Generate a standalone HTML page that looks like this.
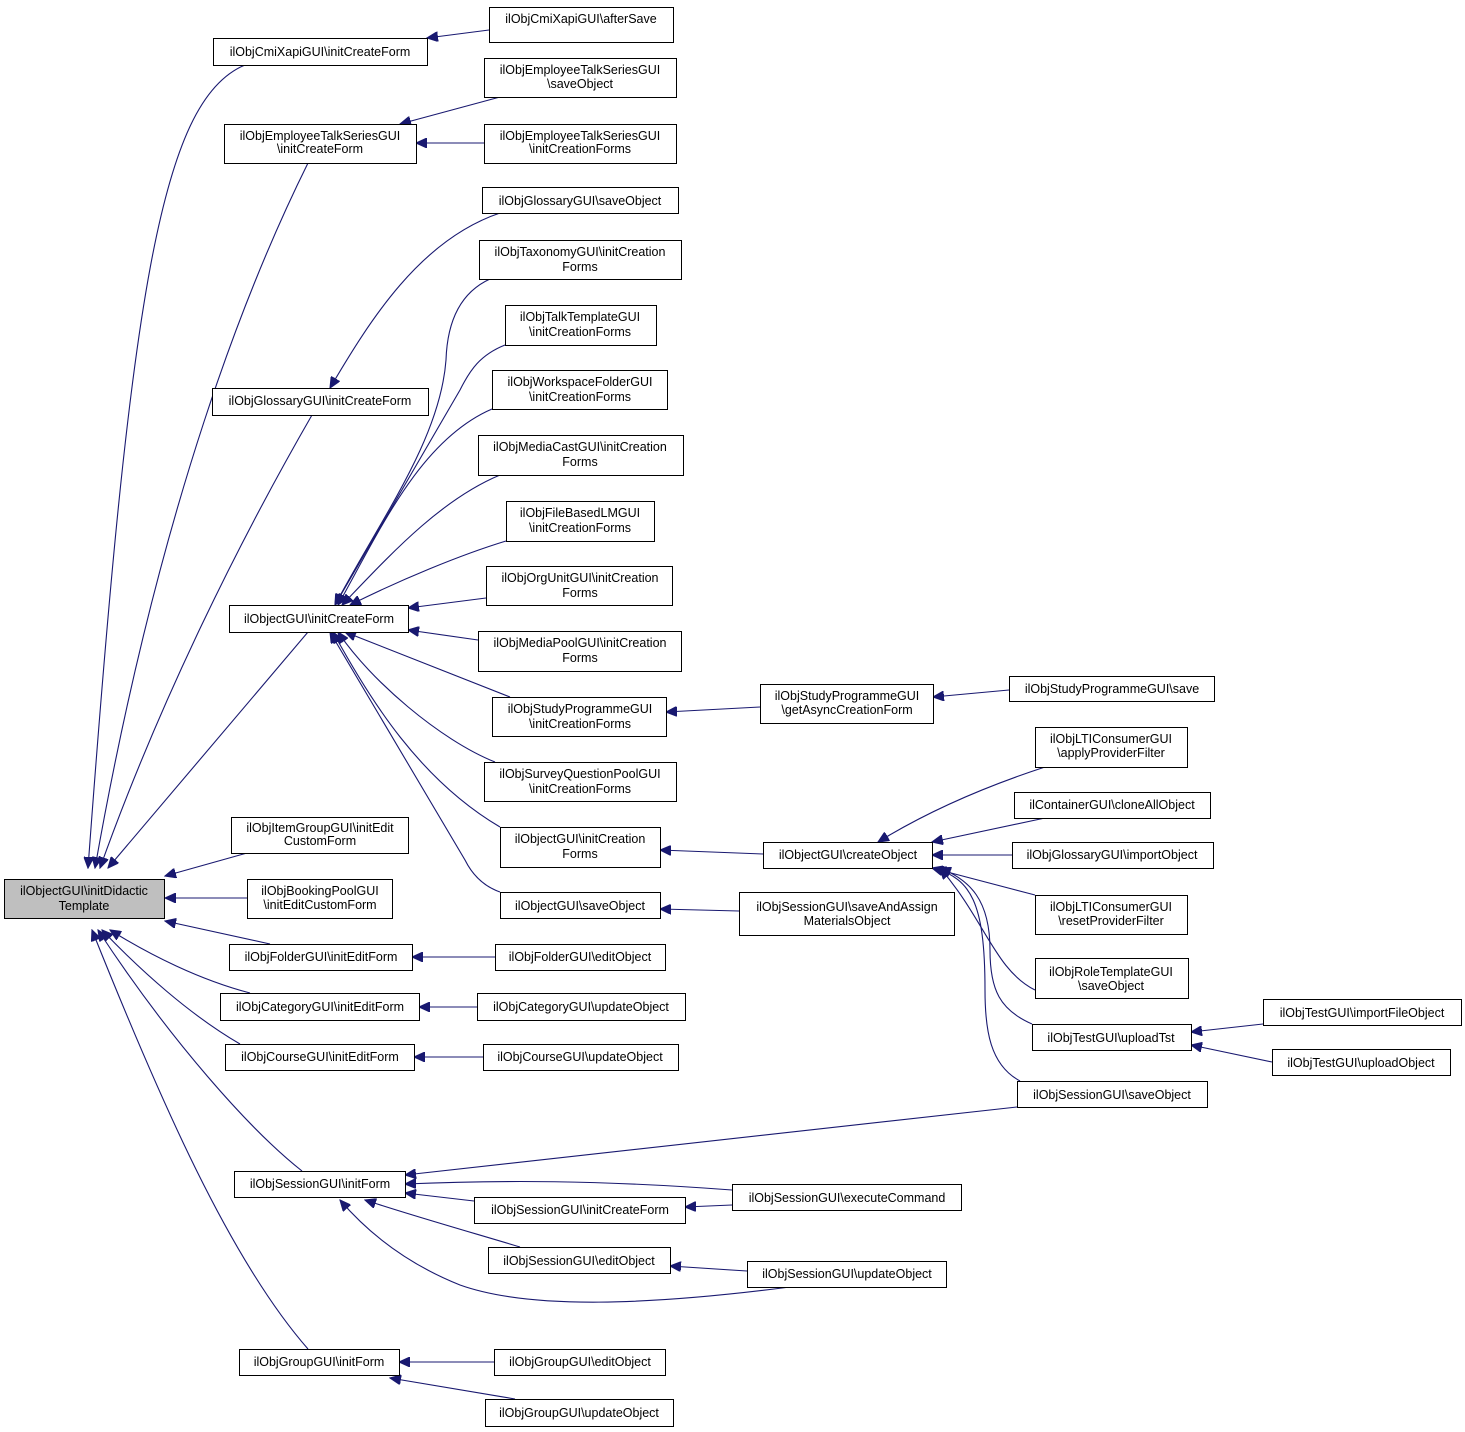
<!DOCTYPE html>
<html><head><meta charset="utf-8"><style>
html,body{margin:0;padding:0;background:#fff;}
svg{display:block;}
text{font-family:"Liberation Sans",sans-serif;font-size:12.5px;fill:#000;text-anchor:middle;}
rect{fill:#fff;stroke:#000;stroke-width:1;}
path{fill:none;stroke:#191970;stroke-width:1.1;}
</style></head><body>
<svg width="1465" height="1432" viewBox="0 0 1465 1432" xmlns="http://www.w3.org/2000/svg">
<defs><marker id="a" markerWidth="12" markerHeight="10" refX="11" refY="5" orient="auto" markerUnits="userSpaceOnUse"><path d="M0,0 L11,5 L0,10 Z" style="fill:#191970;stroke:#191970"/></marker></defs>
<g marker-end="url(#a)">
<path d="M245,65 C160,100 130,300 88,868"/>
<path d="M308,163 C250,280 160,500 95,868"/>
<path d="M312,415 C240,540 160,700 100,868"/>
<path d="M308,632 L108,868"/>
<path d="M247,853 L165,876"/>
<path d="M247,898 L165,898"/>
<path d="M270,944 L165,921"/>
<path d="M250,993 C200,980 150,955 110,930"/>
<path d="M240,1044 C190,1015 140,970 102,930"/>
<path d="M302,1171 C250,1130 170,1040 98,930"/>
<path d="M308,1349 C230,1260 160,1100 92,930"/>
<path d="M500,213 C420,240 370,320 330,388"/>
<path d="M490,279 C455,295 447,330 446,360 C440,440 380,520 335,605"/>
<path d="M505,345 C480,355 470,370 460,390 L335,605"/>
<path d="M492,409 C420,440 380,530 338,605"/>
<path d="M500,475 C440,500 390,555 342,605"/>
<path d="M506,541 C460,555 400,580 350,605"/>
<path d="M486,598 L408,608"/>
<path d="M478,640 L408,630"/>
<path d="M510,697 L345,632"/>
<path d="M495,762 C440,740 370,680 338,632"/>
<path d="M500,827 C420,780 370,700 333,632"/>
<path d="M500,892 C480,885 470,870 465,860 L330,632"/>
<path d="M500,97 L400,124"/>
<path d="M484,143 L416,143"/>
<path d="M489,30 L427,38"/>
<path d="M495,957 L412,957"/>
<path d="M477,1007 L419,1007"/>
<path d="M483,1057 L414,1057"/>
<path d="M1009,690 L933,697"/>
<path d="M760,707 L666,712"/>
<path d="M763,854 L660,850"/>
<path d="M739,911 L660,909"/>
<path d="M1045,767 C990,785 930,810 878,842"/>
<path d="M1045,818 L932,842"/>
<path d="M1012,855 L932,855"/>
<path d="M1035,895 L932,868"/>
<path d="M1035,990 C995,970 985,920 940,868"/>
<path d="M1032,1024 C1000,1010 990,990 990,950 C990,900 970,880 940,868"/>
<path d="M1020,1081 C990,1065 985,1030 985,990 C985,900 970,880 935,868"/>
<path d="M1263,1024 L1191,1032"/>
<path d="M1272,1062 L1191,1045"/>
<path d="M1017,1107 L405,1175"/>
<path d="M732,1190 C600,1180 500,1180 405,1184"/>
<path d="M474,1201 L405,1193"/>
<path d="M520,1247 C470,1232 410,1215 365,1200"/>
<path d="M790,1287 C650,1305 530,1310 460,1285 C410,1265 370,1235 340,1200"/>
<path d="M732,1205 L685,1207"/>
<path d="M747,1271 L670,1266"/>
<path d="M494,1362 L399,1362"/>
<path d="M515,1399 L390,1378"/>
</g>
<rect x="4.5" y="879.5" width="160" height="39" style="fill:#bfbfbf"/><text x="84" y="895">ilObjectGUI\initDidactic</text><text x="84" y="910">Template</text>
<rect x="213.5" y="38.5" width="214" height="27"/><text x="320" y="56">ilObjCmiXapiGUI\initCreateForm</text>
<rect x="224.5" y="124.5" width="192" height="39"/><text x="320" y="140">ilObjEmployeeTalkSeriesGUI</text><text x="320" y="153">\initCreateForm</text>
<rect x="212.5" y="388.5" width="216" height="27"/><text x="320" y="405">ilObjGlossaryGUI\initCreateForm</text>
<rect x="229.5" y="605.5" width="179" height="27"/><text x="319" y="623">ilObjectGUI\initCreateForm</text>
<rect x="231.5" y="817.5" width="177" height="36"/><text x="320" y="832">ilObjItemGroupGUI\initEdit</text><text x="320" y="845">CustomForm</text>
<rect x="247.5" y="879.5" width="145" height="39"/><text x="320" y="895">ilObjBookingPoolGUI</text><text x="320" y="909">\initEditCustomForm</text>
<rect x="229.5" y="944.5" width="183" height="26"/><text x="321" y="961">ilObjFolderGUI\initEditForm</text>
<rect x="220.5" y="993.5" width="199" height="27"/><text x="320" y="1011">ilObjCategoryGUI\initEditForm</text>
<rect x="225.5" y="1044.5" width="189" height="26"/><text x="320" y="1061">ilObjCourseGUI\initEditForm</text>
<rect x="234.5" y="1171.5" width="171" height="26"/><text x="320" y="1188">ilObjSessionGUI\initForm</text>
<rect x="239.5" y="1349.5" width="160" height="26"/><text x="319" y="1366">ilObjGroupGUI\initForm</text>
<rect x="489.5" y="7.5" width="184" height="35"/><text x="581" y="23">ilObjCmiXapiGUI\afterSave</text>
<rect x="484.5" y="58.5" width="192" height="39"/><text x="580" y="74">ilObjEmployeeTalkSeriesGUI</text><text x="580" y="88">\saveObject</text>
<rect x="484.5" y="124.5" width="192" height="39"/><text x="580" y="140">ilObjEmployeeTalkSeriesGUI</text><text x="580" y="153">\initCreationForms</text>
<rect x="482.5" y="187.5" width="196" height="26"/><text x="580" y="205">ilObjGlossaryGUI\saveObject</text>
<rect x="479.5" y="240.5" width="202" height="39"/><text x="580" y="256">ilObjTaxonomyGUI\initCreation</text><text x="580" y="271">Forms</text>
<rect x="505.5" y="305.5" width="151" height="40"/><text x="580" y="321">ilObjTalkTemplateGUI</text><text x="580" y="336">\initCreationForms</text>
<rect x="492.5" y="370.5" width="175" height="39"/><text x="580" y="386">ilObjWorkspaceFolderGUI</text><text x="580" y="401">\initCreationForms</text>
<rect x="478.5" y="435.5" width="205" height="40"/><text x="580" y="451">ilObjMediaCastGUI\initCreation</text><text x="580" y="466">Forms</text>
<rect x="506.5" y="501.5" width="148" height="40"/><text x="580" y="517">ilObjFileBasedLMGUI</text><text x="580" y="532">\initCreationForms</text>
<rect x="486.5" y="566.5" width="186" height="39"/><text x="580" y="582">ilObjOrgUnitGUI\initCreation</text><text x="580" y="597">Forms</text>
<rect x="478.5" y="631.5" width="203" height="40"/><text x="580" y="647">ilObjMediaPoolGUI\initCreation</text><text x="580" y="662">Forms</text>
<rect x="492.5" y="697.5" width="174" height="39"/><text x="580" y="713">ilObjStudyProgrammeGUI</text><text x="580" y="728">\initCreationForms</text>
<rect x="484.5" y="762.5" width="192" height="39"/><text x="580" y="778">ilObjSurveyQuestionPoolGUI</text><text x="580" y="793">\initCreationForms</text>
<rect x="500.5" y="827.5" width="160" height="40"/><text x="580" y="843">ilObjectGUI\initCreation</text><text x="580" y="858">Forms</text>
<rect x="500.5" y="892.5" width="160" height="26"/><text x="580" y="910">ilObjectGUI\saveObject</text>
<rect x="495.5" y="944.5" width="170" height="26"/><text x="580" y="961">ilObjFolderGUI\editObject</text>
<rect x="477.5" y="993.5" width="208" height="27"/><text x="581" y="1011">ilObjCategoryGUI\updateObject</text>
<rect x="483.5" y="1044.5" width="195" height="26"/><text x="580" y="1061">ilObjCourseGUI\updateObject</text>
<rect x="474.5" y="1197.5" width="211" height="26"/><text x="580" y="1214">ilObjSessionGUI\initCreateForm</text>
<rect x="488.5" y="1247.5" width="182" height="26"/><text x="579" y="1265">ilObjSessionGUI\editObject</text>
<rect x="494.5" y="1349.5" width="171" height="26"/><text x="580" y="1366">ilObjGroupGUI\editObject</text>
<rect x="485.5" y="1399.5" width="188" height="27"/><text x="579" y="1417">ilObjGroupGUI\updateObject</text>
<rect x="760.5" y="684.5" width="173" height="39"/><text x="847" y="700">ilObjStudyProgrammeGUI</text><text x="847" y="714">\getAsyncCreationForm</text>
<rect x="763.5" y="842.5" width="169" height="26"/><text x="848" y="859">ilObjectGUI\createObject</text>
<rect x="739.5" y="892.5" width="215" height="43"/><text x="847" y="911">ilObjSessionGUI\saveAndAssign</text><text x="847" y="925">MaterialsObject</text>
<rect x="732.5" y="1184.5" width="229" height="26"/><text x="847" y="1202">ilObjSessionGUI\executeCommand</text>
<rect x="747.5" y="1261.5" width="199" height="26"/><text x="847" y="1278">ilObjSessionGUI\updateObject</text>
<rect x="1009.5" y="676.5" width="205" height="25"/><text x="1112" y="693">ilObjStudyProgrammeGUI\save</text>
<rect x="1035.5" y="727.5" width="152" height="40"/><text x="1111" y="743">ilObjLTIConsumerGUI</text><text x="1111" y="757">\applyProviderFilter</text>
<rect x="1014.5" y="792.5" width="196" height="26"/><text x="1112" y="809">ilContainerGUI\cloneAllObject</text>
<rect x="1012.5" y="842.5" width="201" height="26"/><text x="1112" y="859">ilObjGlossaryGUI\importObject</text>
<rect x="1035.5" y="895.5" width="152" height="39"/><text x="1111" y="911">ilObjLTIConsumerGUI</text><text x="1111" y="925">\resetProviderFilter</text>
<rect x="1035.5" y="958.5" width="153" height="40"/><text x="1111" y="976">ilObjRoleTemplateGUI</text><text x="1111" y="990">\saveObject</text>
<rect x="1032.5" y="1024.5" width="159" height="26"/><text x="1111" y="1042">ilObjTestGUI\uploadTst</text>
<rect x="1017.5" y="1081.5" width="190" height="26"/><text x="1112" y="1099">ilObjSessionGUI\saveObject</text>
<rect x="1263.5" y="999.5" width="198" height="26"/><text x="1362" y="1017">ilObjTestGUI\importFileObject</text>
<rect x="1272.5" y="1049.5" width="178" height="26"/><text x="1361" y="1067">ilObjTestGUI\uploadObject</text>
</svg>
</body></html>
